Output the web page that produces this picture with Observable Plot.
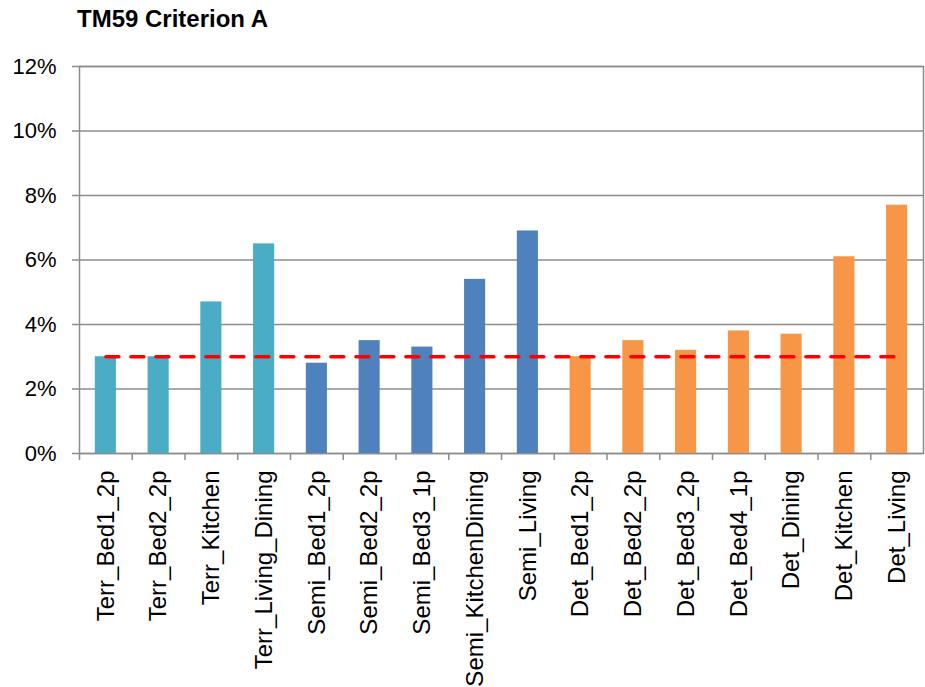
<!DOCTYPE html>
<html>
<head>
<meta charset="utf-8">
<script src="https://cdn.jsdelivr.net/npm/d3@7"></script>
<script src="https://cdn.jsdelivr.net/npm/@observablehq/plot@0.6"></script>
<style>
  html, body { margin: 0; padding: 0; background: #fff; }
  #title { font: bold 24px "Liberation Sans", Arial, sans-serif; height: 40px; box-sizing: border-box; padding: 5px 0 0 77px; color: #000; }
</style>
</head>
<body>
<div id="title">TM59 Criterion A</div>
<div id="chart"></div>
<script>
const categories = ["Terr_Bed1_2p","Terr_Bed2_2p","Terr_Kitchen","Terr_Living_Dining","Semi_Bed1_2p","Semi_Bed2_2p","Semi_Bed3_1p","Semi_KitchenDining","Semi_Living","Det_Bed1_2p","Det_Bed2_2p","Det_Bed3_2p","Det_Bed4_1p","Det_Dining","Det_Kitchen","Det_Living"];
const groups = ["Terr","Terr","Terr","Terr","Semi","Semi","Semi","Semi","Semi","Det","Det","Det","Det","Det","Det","Det"];
const values = [3.0, 3.0, 4.7, 6.5, 2.8, 3.5, 3.3, 5.4, 6.9, 3.0, 3.5, 3.2, 3.8, 3.7, 6.1, 7.7];
const threshold = 3;
const yTicks = [0, 2, 4, 6, 8, 10, 12];
const groupNames = ["Terr", "Semi", "Det"];
const groupColors = ["#4BACC6", "#4F81BD", "#F79646"];

const data = categories.map((c, i) => ({category: c, group: groups[i], value: values[i], threshold}));

const W = 925, ML = 79, MR = 2;
const step = (W - ML - MR) / categories.length;
const gray = "#8c8c8c";

const chart = Plot.plot({
  width: W,
  height: 647,
  marginTop: 26,
  marginBottom: 234,
  marginLeft: ML,
  marginRight: MR,
  style: {fontFamily: "'Liberation Sans', Arial, sans-serif", color: "#000", background: "#fff"},
  x: {domain: categories, paddingInner: 0.6, paddingOuter: 0.3, round: false, label: null},
  y: {domain: [0, 12], label: null},
  color: {domain: groupNames, range: groupColors},
  marks: [
    Plot.gridY(yTicks, {stroke: gray, strokeOpacity: 1, strokeWidth: 1.5}),
    Plot.frame({stroke: gray, strokeWidth: 1.5}),
    Plot.axisY({ticks: yTicks, tickSize: 7, tickPadding: 16, tickFormat: d => d + "%", fontSize: 22, stroke: gray, strokeWidth: 1.5, label: null}),
    Plot.axisX({tickSize: 7, tickFormat: () => "", dx: -step / 2, stroke: gray, strokeWidth: 1.5, label: null}),
    Plot.axisX({tickSize: 0, tickPadding: 17, tickRotate: -90, fontSize: 24, label: null}),
    Plot.barY(data, {x: "category", y: "value", fill: "group"}),
    Plot.lineY(data, {x: "category", y: "threshold", stroke: "#FF0000", strokeWidth: 3.5, strokeDasharray: "13,12"})
  ]
});
document.getElementById("chart").appendChild(chart);
</script>
</body>
</html>
